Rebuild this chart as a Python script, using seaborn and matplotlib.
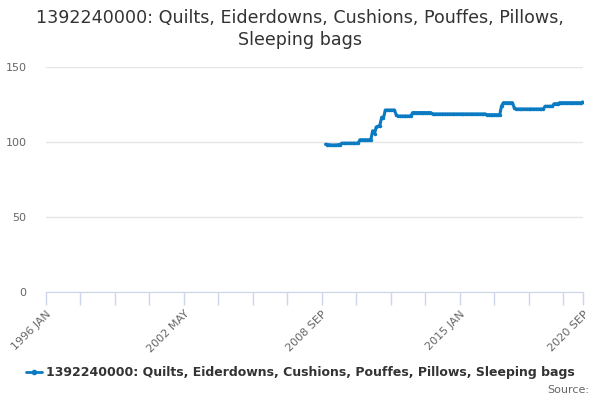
import matplotlib
matplotlib.use("Agg")
import matplotlib.pyplot as plt
from matplotlib.lines import Line2D
import seaborn as sns
import pandas as pd

title = "1392240000: Quilts, Eiderdowns, Cushions, Pouffes, Pillows,\nSleeping bags"
series_name = "1392240000: Quilts, Eiderdowns, Cushions, Pouffes, Pillows, Sleeping bags"

start_month = "2008-11-01"
values = ([98.5, 98.3, 98.2, 98.0, 98.0, 98.0, 98.0, 98.2, 98.3]
          + [99.2] * 10
          + [101.5] * 7
          + [107.5, 105.5, 110.0, 110.5, 111.0]
          + [116.5, 116.0]
          + [121.3] * 6
          + [118.0] + [117.3] * 8
          + [119.6] * 11
          + [118.7] * 30
          + [118.2] * 8
          + [124.0] + [126.2] * 6
          + [123.0] + [122.0] * 16
          + [123.8] * 5
          + [125.5] * 3
          + [126.2] * 13
          + [126.9])

y_ticks = [0, 50, 100, 150]
axis_start = "1996-01-01"
axis_end = "2020-09-01"
labelled_steps = [0, 76, 152, 228]  # months from axis start
minor_step = 19

df = pd.DataFrame({
    "date": pd.date_range(start_month, periods=len(values), freq="MS"),
    "value": values,
})

sns.set_style("white")
plt.rcParams["font.family"] = ["DejaVu Sans"]

fig = plt.figure(figsize=(6, 4), dpi=100)
ax = fig.add_axes([0.0767, 0.27, 0.8953, 0.5625])

blue = "#0a7bc2"
sns.lineplot(data=df, x="date", y="value", ax=ax, color=blue, linewidth=2.2,
             marker="o", markersize=2.5, markeredgewidth=0)

start = pd.Timestamp(axis_start)
end = pd.Timestamp(axis_end)
ax.set_xlim(start, end)
ax.set_ylim(0, 150)

major = [start + pd.DateOffset(months=m) for m in labelled_steps] + [end]
total = (end.year - start.year) * 12 + end.month - start.month
minor = [start + pd.DateOffset(months=m) for m in range(0, total, minor_step)]
ax.set_xticks(major)
ax.set_xticks(minor, minor=True)
ax.set_xticklabels([d.strftime("%Y %b").upper() for d in major], rotation=45,
                   ha="right", rotation_mode="anchor", fontsize=8, color="#666666")
ax.tick_params(axis="x", which="both", bottom=True, length=9, width=1,
               color="#ccd6eb", direction="out", pad=3)

ax.set_yticks(y_ticks)
ax.set_yticklabels([str(v) for v in y_ticks], fontsize=8, color="#666666")
ax.tick_params(axis="y", length=0, pad=14)
ax.grid(axis="y", color="#e6e6e6", linewidth=1)
ax.set_axisbelow(True)

for s in ["top", "right", "left"]:
    ax.spines[s].set_visible(False)
ax.spines["bottom"].set_color("#ccd6eb")
ax.set_xlabel("")
ax.set_ylabel("")

fig.suptitle(title, x=0.5, y=0.977, fontsize=12.6, color="#333333", va="top",
             linespacing=1.3)

handle = Line2D([0], [0], color=blue, linewidth=2, marker="o", markersize=3)
fig.legend([handle], [series_name], loc="center", bbox_to_anchor=(0.5, 0.068),
           frameon=False, handlelength=1.3, handletextpad=0.3,
           prop={"weight": "bold", "size": 9})
for t in fig.legends[0].get_texts():
    t.set_color("#333333")

fig.text(0.982, 0.025, "Source:", ha="right", va="center", fontsize=8, color="#666666")

fig.savefig("out.png", dpi=100)
